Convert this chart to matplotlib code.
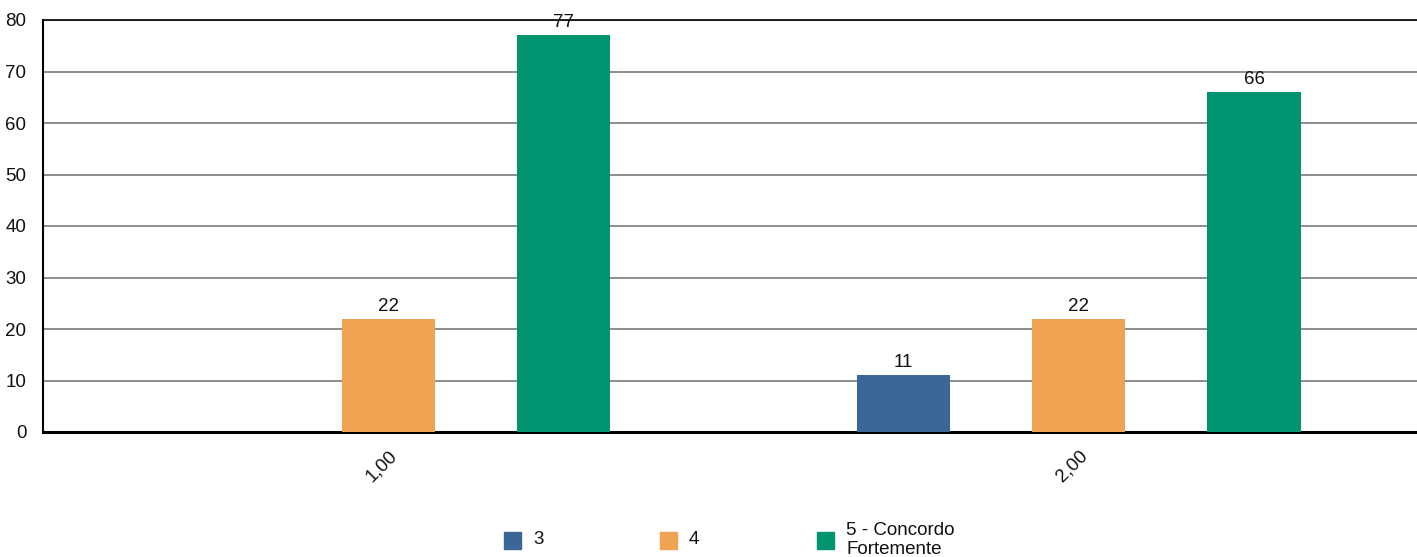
import matplotlib.pyplot as plt
import numpy as np
from matplotlib.patches import Rectangle

plt.rcParams['font.family'] = ['Liberation Sans', 'DejaVu Sans']

categories = ['1,00', '2,00']
series_names = ['3', '4', '5 - Concordo\nFortemente']
series_values = [
    [np.nan, 11],   # 3
    [22, 22],       # 4
    [77, 66],       # 5 - Concordo Fortemente
]
colors = ['#3a6698', '#efa353', '#009570']
y_ticks = [0, 10, 20, 30, 40, 50, 60, 70, 80]

fs = 13.5
fig = plt.figure(figsize=(14.17, 5.57), dpi=100, facecolor='white')
ax = fig.add_axes([43 / 1417, 1 - 432 / 557, 1 - 43 / 1417, (432 - 20) / 557])

x = np.arange(len(categories))
offset = 0.254
width = 0.135
for i, (vals, col) in enumerate(zip(series_values, colors)):
    pos = x + (i - 1) * offset
    ax.bar(pos, vals, width=width, color=col, zorder=3)
    for p, v in zip(pos, vals):
        if not np.isnan(v):
            ax.annotate(f'{v:g}', (p, v), xytext=(0, 3), textcoords='offset points',
                        ha='center', va='bottom', fontsize=fs, color='#111111')

ax.set_xlim(-0.5, 1.49)
ax.set_ylim(0, 80)
ax.set_yticks(y_ticks)
ax.yaxis.grid(True, color='#7a7a7a', linewidth=1.2, zorder=0)
ax.set_axisbelow(True)
ax.tick_params(axis='both', length=0, labelsize=fs, colors='#111111')
ax.tick_params(axis='y', pad=12)
ax.set_xticks(x)
ax.set_xticklabels(categories, rotation=45, ha='right', rotation_mode='anchor')
ax.tick_params(axis='x', pad=11)

ax.spines['right'].set_visible(False)
ax.spines['top'].set_color('black')
ax.spines['top'].set_linewidth(1.2)
ax.spines['left'].set_linewidth(1.5)
ax.spines['bottom'].set_linewidth(2.2)

# legend
leg_x = [504, 660, 817]
for lx, name, col in zip(leg_x, series_names, colors):
    fig.patches.append(Rectangle((lx / 1417, 1 - 549 / 557), 17 / 1417, 17 / 557,
                                 transform=fig.transFigure, color=col))
    fig.text((lx + 29) / 1417, 1 - 540 / 557, name, fontsize=fs,
             va='center', ha='left', color='#111111', linespacing=1.1)

fig.savefig('out.png', dpi=100)
